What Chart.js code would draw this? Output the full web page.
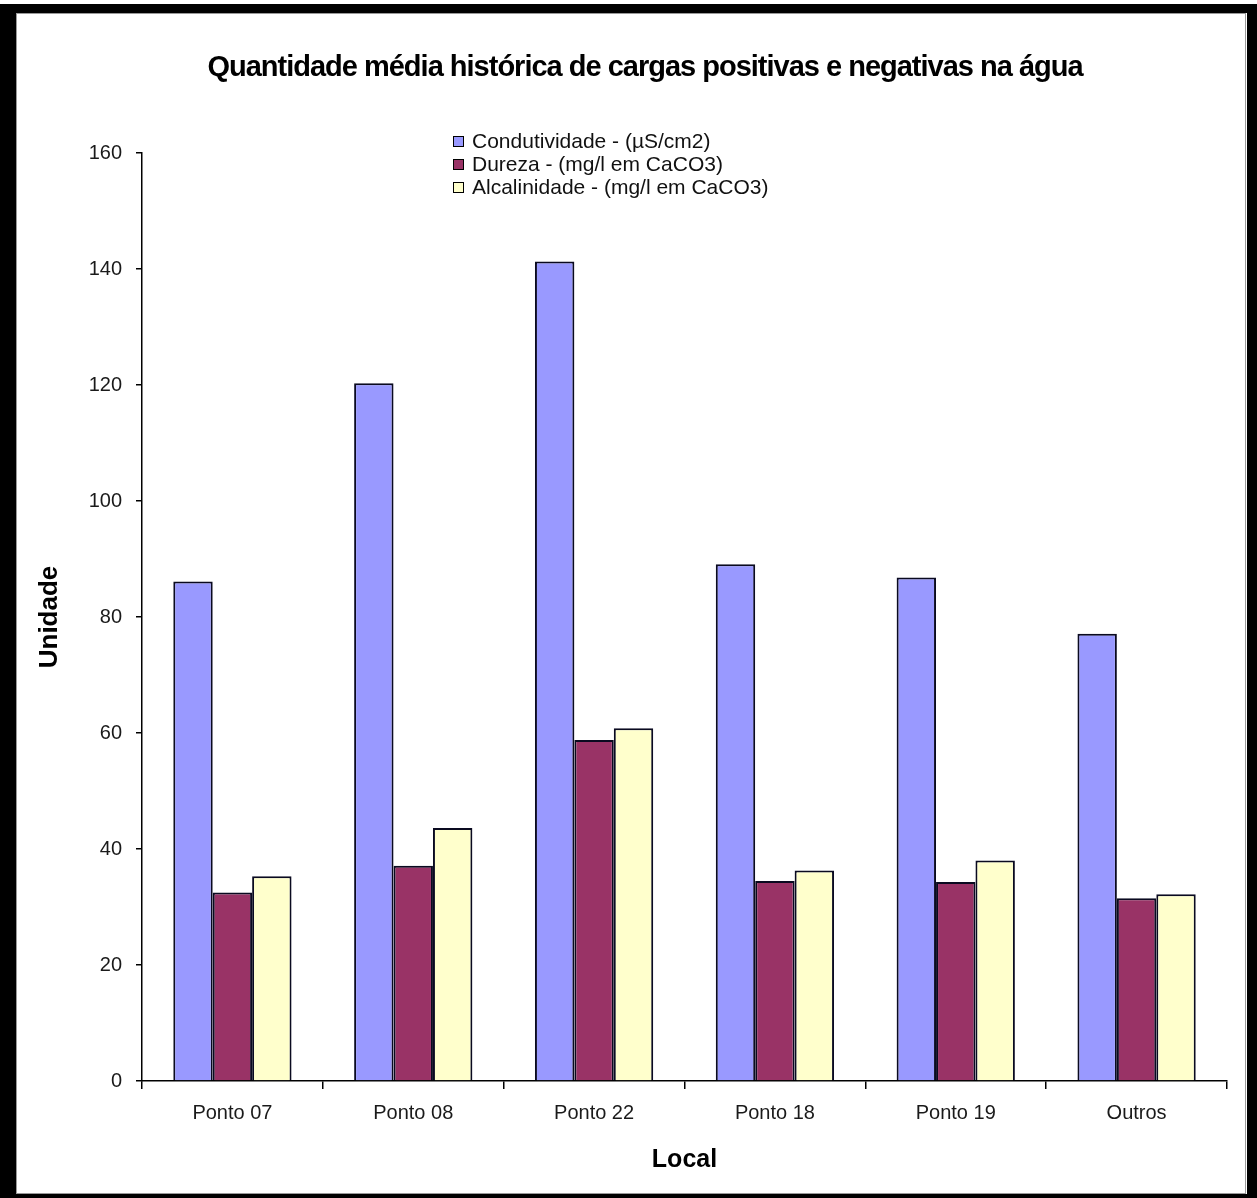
<!DOCTYPE html>
<html>
<head>
<meta charset="utf-8">
<script src="https://cdn.jsdelivr.net/npm/chart.js@4.4.1/dist/chart.umd.min.js"></script>
<style>
  html, body { margin: 0; padding: 0; background: #fff; }
</style>
</head>
<body>
<canvas id="myChart" width="1257" height="1198"></canvas>
<script>
const locais = ['Ponto 07', 'Ponto 08', 'Ponto 22', 'Ponto 18', 'Ponto 19', 'Outros']
const condutividade = [86.1, 120.3, 141.3, 89.1, 86.8, 77.1]
const dureza = [32.5, 37.1, 58.8, 34.5, 34.3, 31.5]
const alcalinidade = [35.3, 43.6, 60.8, 36.3, 38.0, 32.2]
const yTicks = [0, 20, 40, 60, 80, 100, 120, 140, 160]

const fontFamily = '"Liberation Sans", Arial, sans-serif'
const titulo = 'Quantidade média histórica de cargas positivas e negativas na água'

// frame, title and the legend box that sits over the top of the plot
const decorPlugin = {
    id: 'decor',
    afterDraw(chart) {
        const ctx = chart.ctx
        const w = chart.width, h = chart.height
        ctx.save()

        // black frame
        ctx.fillStyle = '#000'
        ctx.fillRect(0, 4, 16, h - 4)
        ctx.fillRect(0, 4, w, 9)
        ctx.fillRect(w - 10, 4, 10, h - 4)
        ctx.fillRect(0, h - 4, w, 4)
        ctx.strokeStyle = '#999'
        ctx.lineWidth = 1
        ctx.strokeRect(16.5, 13.5, w - 28, h - 18)

        // title
        ctx.fillStyle = '#000'
        ctx.font = `bold 29px ${fontFamily}`
        ctx.letterSpacing = '-1px'
        ctx.textAlign = 'center'
        ctx.textBaseline = 'middle'
        ctx.fillText(titulo, 645, 68)
        ctx.letterSpacing = '0px'

        // legend
        ctx.font = `21px ${fontFamily}`
        ctx.textAlign = 'left'
        chart.data.datasets.forEach((ds, i) => {
            const y = 141 + i * 23
            ctx.fillStyle = ds.backgroundColor
            ctx.fillRect(453, y - 5, 10, 10)
            ctx.strokeStyle = '#000'
            ctx.lineWidth = 1
            ctx.strokeRect(453.5, y - 4.5, 10, 10)
            ctx.fillStyle = '#111'
            ctx.fillText(ds.label, 472, y + 1)
        })
        ctx.restore()
    }
}

const ctx = document.getElementById('myChart').getContext('2d')

const myChart = new Chart(ctx, {
    type: 'bar',
    data: {
        labels: locais,
        datasets: [{
            label: 'Condutividade - (µS/cm2)',
            data: condutividade,
            backgroundColor: '#9999FF',
        }, {
            label: 'Dureza - (mg/l em CaCO3)',
            data: dureza,
            backgroundColor: '#993366',
        }, {
            label: 'Alcalinidade - (mg/l em CaCO3)',
            data: alcalinidade,
            backgroundColor: '#FFFFCC',
        }]
    },
    options: {
        responsive: false,
        animation: false,
        layout: {
            padding: { top: 153, left: 0, right: 30, bottom: 0 }
        },
        datasets: {
            bar: {
                categoryPercentage: 0.654,
                barPercentage: 1.0,
                borderWidth: 2,
                borderColor: '#0a0a20'
            }
        },
        plugins: {
            legend: { display: false },
            title: { display: false },
            tooltip: { enabled: false }
        },
        scales: {
            x: {
                afterFit: (scale) => { scale.height = 117 },
                grid: {
                    drawOnChartArea: false,
                    color: '#000',
                    tickLength: 8,
                    lineWidth: 1.5
                },
                border: { color: '#000', width: 1.5 },
                ticks: {
                    color: '#1a1a1a',
                    padding: 12,
                    font: { family: fontFamily, size: 20 }
                },
                title: {
                    display: true,
                    text: 'Local',
                    color: '#000',
                    font: { family: fontFamily, size: 25, weight: 'bold' },
                    padding: { top: 0, bottom: 23 }
                }
            },
            y: {
                min: 0,
                max: 160,
                afterFit: (scale) => { scale.width = 142 },
                afterBuildTicks: (scale) => {
                    scale.ticks = yTicks.map((v) => ({ value: v }))
                },
                grid: {
                    drawOnChartArea: false,
                    color: '#000',
                    tickLength: 6,
                    lineWidth: 1.5
                },
                border: { color: '#000', width: 1.5 },
                ticks: {
                    color: '#1a1a1a',
                    padding: 14,
                    font: { family: fontFamily, size: 20 }
                },
                title: {
                    display: true,
                    text: 'Unidade',
                    color: '#000',
                    font: { family: fontFamily, size: 26, weight: 'bold' },
                    padding: { top: 34, bottom: 0 }
                }
            }
        }
    },
    plugins: [decorPlugin]
})
</script>
</body>
</html>
